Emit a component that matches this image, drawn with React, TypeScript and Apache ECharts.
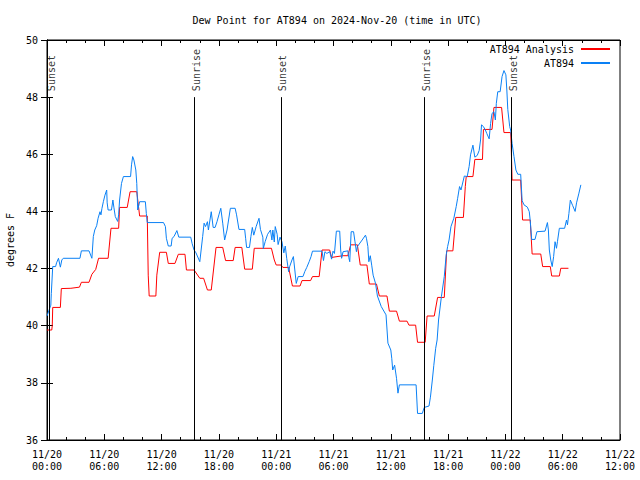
import React, { useEffect, useRef } from "react";
import * as echarts from "echarts";

const FONT = "DejaVu Sans Mono";

const TITLE = "Dew Point for AT894 on 2024-Nov-20 (time in UTC)";
const Y_NAME = "degrees F";
const SERIES_NAMES = ["AT894 Analysis", "AT894"];

const X_TICK_LABELS = [
  "11/20\n00:00", "11/20\n06:00", "11/20\n12:00", "11/20\n18:00",
  "11/21\n00:00", "11/21\n06:00", "11/21\n12:00", "11/21\n18:00",
  "11/22\n00:00", "11/22\n06:00", "11/22\n12:00",
];

const SUN_EVENTS = ["Sunset", "Sunrise", "Sunset", "Sunrise", "Sunset"];
const SUN_HOURS = [0.22, 15.43, 24.5, 39.5, 48.6];

// [hours since 11/20 00:00 UTC, degrees F]
const analysisPoints: [number, number][] = [
  [0, 39.85], [0.5, 39.85], [0.55, 40.0], [0.6, 40.64], [1.4, 40.64], [1.5, 41.3], [2.5, 41.31],
  [3.4, 41.35], [3.6, 41.52], [4.4, 41.52], [4.7, 41.8], [5.1, 41.97], [5.4, 42.36], [6.4, 42.36],
  [6.7, 43.41], [7.5, 43.41], [7.6, 44.14], [8.4, 44.14], [8.7, 44.69], [9.4, 44.69], [9.7, 43.84],
  [10.5, 43.84], [10.6, 41.77], [10.7, 41.04], [11.4, 41.04], [11.5, 41.77], [11.8, 42.57],
  [12.5, 42.57], [12.7, 42.18], [13.4, 42.18], [13.75, 42.5], [14.45, 42.5], [14.6, 41.95],
  [15.4, 41.95], [16.0, 41.66], [16.4, 41.66], [16.8, 41.25], [17.2, 41.25], [17.7, 42.74],
  [18.4, 42.74], [18.7, 42.28], [19.5, 42.28], [19.7, 42.74], [20.4, 42.74], [20.7, 41.98],
  [21.5, 41.98], [21.7, 42.71], [23.5, 42.71], [23.8, 42.3], [24.0, 42.125], [24.5, 42.125],
  [24.7, 42.04], [25.3, 42.04], [25.7, 41.39], [26.5, 41.39], [26.7, 41.58], [27.6, 41.58],
  [27.8, 41.72], [28.5, 41.72], [28.8, 42.65], [29.6, 42.65], [29.8, 42.39], [31.0, 42.45],
  [31.5, 42.45], [31.8, 42.83], [32.5, 42.83], [32.8, 42.125], [33.5, 42.125], [33.75, 41.46],
  [34.5, 41.46], [34.8, 41.04], [35.6, 41.04], [35.85, 40.51], [36.6, 40.51], [36.9, 40.16],
  [37.7, 40.16], [37.9, 40.02], [38.6, 40.02], [38.8, 39.42], [39.6, 39.42], [39.8, 40.34],
  [40.55, 40.34], [40.9, 40.99], [41.6, 40.99], [41.85, 42.62], [42.5, 42.62], [42.8, 43.79],
  [43.6, 43.79], [43.8, 44.87], [43.9, 45.22], [44.6, 45.22], [44.8, 45.82], [45.6, 45.82],
  [45.7, 46.87], [46.6, 46.87], [46.8, 47.64], [47.6, 47.64], [47.85, 46.76], [48.55, 46.76],
  [48.6, 46.38], [48.7, 45.1], [49.6, 45.1], [49.8, 43.7], [50.6, 43.7], [50.8, 42.51],
  [51.7, 42.51], [51.9, 42.07], [52.7, 42.07], [52.85, 41.74], [53.65, 41.74], [53.8, 42.01],
  [54.6, 42.01],
];

const observedPoints: [number, number][] = [
  [0, 40.34], [0.4, 40.72], [0.45, 41.13], [0.6, 42.07], [0.9, 42.07], [1.0, 42.2], [1.2, 42.36],
  [1.4, 42.05], [1.55, 42.3], [1.7, 42.36], [3.45, 42.36], [3.6, 42.62], [4.4, 42.62], [4.7, 42.36],
  [4.85, 43.12], [5.0, 43.35], [5.2, 43.5], [5.35, 43.76], [5.55, 43.99], [5.65, 43.88], [5.75, 44.1],
  [5.9, 44.34], [6.07, 44.57], [6.25, 44.75], [6.3, 44.3], [6.4, 44.05], [6.75, 44.05], [6.9, 44.4],
  [7.0, 44.15], [7.15, 43.82], [7.4, 43.65], [7.5, 43.88], [7.6, 44.4], [7.8, 44.98], [8.0, 45.22],
  [8.75, 45.22], [8.85, 45.63], [8.97, 45.92], [9.1, 45.8], [9.3, 45.45], [9.4, 44.98], [9.5, 44.05],
  [9.7, 44.34], [10.3, 44.34], [10.4, 43.93], [10.5, 43.61], [12.2, 43.61], [12.4, 43.47],
  [12.5, 43.06], [12.7, 42.79], [13.0, 42.79], [13.1, 43.06], [13.3, 43.12], [13.6, 43.33],
  [13.8, 43.1], [15.05, 43.1], [15.2, 42.87], [15.4, 42.65], [15.6, 42.55], [16.0, 42.24],
  [16.3, 43.12], [16.45, 43.59], [16.6, 43.47], [16.8, 43.64], [16.9, 43.35], [17.2, 43.99],
  [17.4, 43.44], [17.6, 43.44], [17.8, 43.64], [18.0, 43.88], [18.2, 44.11], [18.4, 43.59],
  [18.6, 43.0], [18.85, 43.35], [19.2, 44.11], [19.7, 44.11], [19.85, 43.88], [20.1, 43.37],
  [20.7, 43.37], [20.8, 43.06], [20.9, 42.74], [21.2, 42.74], [21.35, 43.12], [21.5, 43.44],
  [21.65, 43.17], [21.9, 43.47], [22.2, 43.76], [22.35, 43.37], [22.6, 43.1], [22.65, 42.7],
  [22.85, 42.95], [23.1, 43.2], [23.4, 43.35], [23.55, 43.0], [23.65, 43.35], [23.8, 42.93],
  [23.9, 43.47], [24.1, 43.2], [24.2, 42.84], [24.4, 43.1], [24.6, 42.94], [24.8, 42.55],
  [24.95, 42.79], [25.1, 42.36], [25.3, 41.89], [25.4, 42.06], [25.65, 42.3], [25.8, 42.42],
  [25.95, 41.95], [26.1, 41.48], [26.3, 41.72], [26.8, 41.72], [27.0, 41.9], [27.2, 42.04],
  [27.45, 42.24], [27.65, 42.42], [27.8, 42.61], [28.8, 42.61], [28.95, 42.28], [29.1, 42.59],
  [29.3, 42.53], [29.6, 42.59], [29.8, 42.33], [29.95, 42.61], [30.1, 42.53], [30.3, 43.31],
  [30.65, 43.31], [30.75, 42.65], [30.85, 42.36], [31.0, 42.59], [31.5, 42.62], [31.6, 42.39],
  [31.7, 42.24], [31.85, 43.29], [32.1, 43.29], [32.25, 42.94], [32.4, 42.59], [32.5, 42.77],
  [33.0, 43.0], [33.35, 43.17], [33.45, 43.06], [33.6, 42.77], [33.7, 42.24], [33.85, 42.45],
  [34.0, 42.12], [34.15, 41.77], [34.4, 41.48], [34.6, 41.04], [35.0, 40.67], [35.5, 40.38],
  [35.7, 39.39], [36.0, 39.15], [36.1, 38.86], [36.2, 38.45], [36.4, 38.62], [36.6, 38.16],
  [36.75, 37.64], [36.9, 37.93], [38.65, 37.93], [38.8, 36.93], [39.3, 36.93], [39.5, 37.14],
  [40.0, 37.19], [40.15, 37.5], [40.35, 38.1], [40.5, 38.6], [40.7, 39.21], [40.85, 39.5],
  [41.0, 40.2], [41.3, 41.02], [41.6, 41.72], [41.8, 42.48], [41.95, 42.77], [42.1, 43.0],
  [42.3, 43.47], [42.6, 43.76], [42.85, 44.17], [43.0, 44.46], [43.2, 44.87], [43.35, 44.75],
  [43.5, 44.96], [43.7, 45.24], [44.0, 45.22], [44.2, 45.57], [44.35, 45.98], [44.6, 46.32],
  [44.8, 45.9], [45.05, 45.96], [45.25, 46.13], [45.4, 46.5], [45.5, 47.03], [45.7, 46.97],
  [45.9, 46.85], [46.05, 46.73], [46.3, 46.54], [46.45, 47.08], [46.6, 47.43], [46.8, 47.49],
  [46.95, 47.2], [47.05, 47.78], [47.2, 48.19], [47.45, 48.19], [47.65, 48.72], [47.85, 48.93],
  [48.05, 48.78], [48.15, 48.25], [48.25, 47.57], [48.45, 46.97], [48.55, 46.85], [48.7, 46.38],
  [48.9, 45.92], [49.1, 45.45], [49.3, 45.3], [49.6, 45.3], [49.75, 44.38], [49.95, 44.23],
  [50.3, 44.15], [50.5, 43.99], [50.6, 43.68], [50.75, 43.02], [51.1, 43.02], [51.3, 43.29],
  [52.15, 43.31], [52.4, 43.61], [52.5, 43.35], [52.6, 42.65], [52.75, 42.3], [52.9, 42.07],
  [53.05, 42.42], [53.2, 42.94], [53.35, 42.71], [53.45, 42.94], [53.65, 43.41], [54.2, 43.41],
  [54.4, 43.7], [54.5, 43.53], [54.65, 43.93], [54.8, 44.4], [55.05, 44.2], [55.3, 44.0],
  [55.45, 44.3], [55.7, 44.64], [55.9, 44.93],
];

const X_MIN = 0;
const X_MAX = 60;
const X_STEP = 6;
const Y_MIN = 36;
const Y_MAX = 50;
const Y_STEP = 2;
const SUN_LINE_TOP = 48;

const RED = "#ff0000";
const BLUE = "#0a80f5";

export default function App() {
  const ref = useRef<HTMLDivElement>(null);

  useEffect(() => {
    if (!ref.current) return;
    const chart = echarts.init(ref.current, null, { renderer: "svg" });
    const textBase = { fontFamily: FONT, fontSize: 10, color: "#000" };

    const commonX = {
      type: "value" as const,
      min: X_MIN,
      max: X_MAX,
      interval: X_STEP,
      splitLine: { show: false },
      axisLine: { show: true, lineStyle: { color: "#000", width: 1 } },
      axisTick: { show: true, inside: true, length: 6, lineStyle: { color: "#000" } },
      minorTick: { show: true, splitNumber: 3, length: 3, lineStyle: { color: "#000" } },
    };
    const commonY = {
      type: "value" as const,
      min: Y_MIN,
      max: Y_MAX,
      interval: Y_STEP,
      splitLine: { show: false },
      axisLine: { show: true, lineStyle: { color: "#000", width: 1 } },
      axisTick: { show: true, inside: true, length: 6, lineStyle: { color: "#000" } },
    };

    chart.setOption({
      animation: false,
      backgroundColor: "#fff",
      title: {
        text: TITLE,
        left: 332,
        textAlign: "center",
        top: 10,
        textStyle: { ...textBase, fontWeight: "normal" },
      },
      legend: {
        data: SERIES_NAMES,
        orient: "vertical",
        align: "right",
        right: 30,
        top: 44,
        padding: 0,
        itemGap: 4,
        itemWidth: 29,
        itemHeight: 2,
        icon: "rect",
        textStyle: { ...textBase, padding: [0, 2, 0, 0] },
      },
      grid: {
        left: 47,
        right: 20,
        top: 40,
        bottom: 40,
        show: true,
        borderColor: "#000",
        borderWidth: 1,
        containLabel: false,
        outerBoundsMode: "none",
      },
      xAxis: [
        {
          ...commonX,
          position: "bottom",
          axisLabel: {
            ...textBase,
            margin: 8,
            lineHeight: 12,
            formatter: (v: number) => X_TICK_LABELS[Math.round(v / X_STEP)] ?? "",
          },
        },
        {
          ...commonX,
          position: "top",
          axisLabel: { show: false },
        },
      ],
      yAxis: [
        {
          ...commonY,
          position: "left",
          name: Y_NAME,
          nameLocation: "middle",
          nameRotate: 90,
          nameGap: 32,
          nameTextStyle: textBase,
          axisLabel: { ...textBase, margin: 9 },
        },
        {
          ...commonY,
          position: "right",
          axisLabel: { show: false },
        },
      ],
      series: [
        {
          name: SERIES_NAMES[0],
          type: "line",
          data: analysisPoints,
          showSymbol: false,
          symbol: "none",
          lineStyle: { color: RED, width: 1 },
          itemStyle: { color: RED },
          z: 3,
        },
        {
          name: SERIES_NAMES[1],
          type: "line",
          data: observedPoints,
          showSymbol: false,
          symbol: "none",
          lineStyle: { color: BLUE, width: 1 },
          itemStyle: { color: BLUE },
          z: 4,
        },
        {
          name: "sun",
          type: "scatter",
          symbolSize: 0,
          data: SUN_HOURS.map((h, i) => ({ value: [h, SUN_LINE_TOP], name: SUN_EVENTS[i] })),
          label: {
            show: true,
            position: "top",
            distance: 6,
            rotate: 90,
            align: "left",
            verticalAlign: "middle",
            offset: [0, 2],
            formatter: (p: any) => p.name,
            ...textBase,
          },
          markLine: {
            silent: true,
            symbol: "none",
            label: { show: false },
            lineStyle: { color: "#000", width: 1, type: "solid" },
            data: SUN_HOURS.map((h) => [
              { coord: [h, SUN_LINE_TOP] },
              { coord: [h, Y_MIN] },
            ]),
          },
          z: 5,
        },
      ],
    });

    return () => chart.dispose();
  }, []);

  return <div ref={ref} style={{ width: 640, height: 480, position: "absolute", left: 0, top: 0 }} />;
}
